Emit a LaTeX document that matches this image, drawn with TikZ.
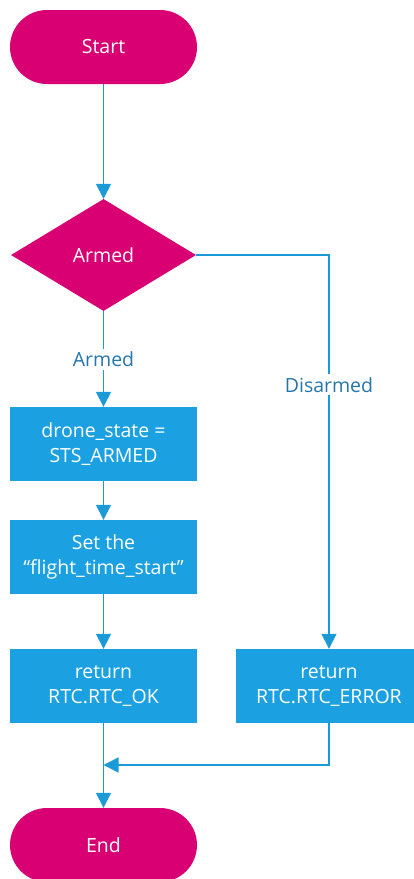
\documentclass[tikz,border=0pt]{standalone}
\usepackage{fontspec}
\setmainfont{Open Sans}
\usetikzlibrary{arrows.meta,shapes.geometric}
\definecolor{termcol}{HTML}{D80073}
\definecolor{boxcol}{HTML}{1BA1E2}
\definecolor{linecol}{HTML}{1B9AD8}
\definecolor{lblcol}{HTML}{2676AC}

\begin{document}
\begin{tikzpicture}[
  x=1pt, y=-1pt,
  font=\fontsize{19.5}{25}\selectfont,
  term/.style={fill=termcol, text=white, rounded corners=37pt,
               minimum width=187pt, minimum height=74pt, inner sep=0pt},
  dec/.style={diamond, fill=termcol, text=white, minimum width=185pt,
              minimum height=112pt, inner sep=0pt},
  act/.style={fill=boxcol, text=white, align=center, minimum width=187pt,
              minimum height=74pt, inner sep=0pt},
  a/.style={-{Triangle[width=15pt,length=15pt]}, draw=linecol,
            line width=1.5pt},
  lbl/.style={fill=white, text=lblcol, inner sep=3pt}]
\useasboundingbox (0,0) rectangle (414,879);

% ---------------- start and the test ----------------------------------------
\node[term] (start) at (103.5,47) {Start};
\node[dec] (armed) at (103.5,255) {Armed};
\draw[a] (start) -- (armed);

% ---------------- armed branch ----------------------------------------------
\node[act] (setstate) at (103.5,444) {drone\_state =\\STS\_ARMED};
\node[act] (settime) at (103.5,557) {Set the\\“flight\_time\_start”};
\node[act] (retok) at (103.5,686) {return\\RTC.RTC\_OK};

\draw[a] (armed) -- node[lbl] {Armed} (setstate);
\draw[a] (setstate) -- (settime);
\draw[a] (settime) -- (retok);

% ---------------- disarmed branch -------------------------------------------
\node[act] (reterr) at (329,686) {return\\RTC.RTC\_ERROR};
\draw[a] (armed.east) -| node[lbl, pos=0.665] {Disarmed} (reterr.north);

% ---------------- the end ---------------------------------------------------
\node[term] (stop) at (103.5,845) {End};
\coordinate (join) at (103.5,765);
\draw[a] (retok) -- (stop);
\draw[a] (reterr.south) |- (join);
\end{tikzpicture}
\end{document}
